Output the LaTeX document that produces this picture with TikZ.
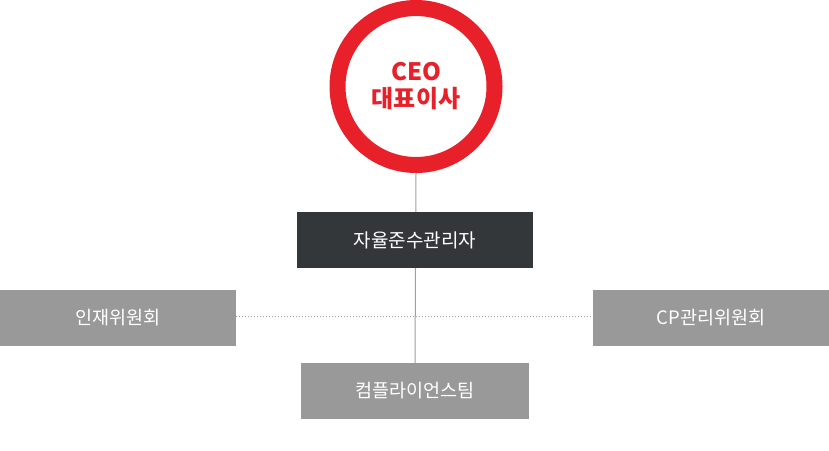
\documentclass[tikz,border=0pt]{standalone}
\usepackage{fontspec}
\setmainfont{Noto Sans CJK KR}
\usetikzlibrary{positioning, backgrounds}
\definecolor{ceored}{RGB}{232, 32, 42}
\definecolor{darkslate}{RGB}{52, 55, 58}
\definecolor{boxgray}{RGB}{153, 153, 153}
\definecolor{linegray}{RGB}{160, 160, 160}
\tikzset{
  ceoring/.style={circle, draw=ceored, line width=16pt, fill=white, minimum size=157pt, inner sep=0pt, align=center, text=ceored, font=\fontsize{24}{27}\selectfont\bfseries},
  orgbox_dark/.style={fill=darkslate, text=white, minimum width=236pt, minimum height=56pt, inner sep=0pt, font=\fontsize{19}{20}\selectfont},
  orgbox/.style={fill=boxgray, text=white, minimum width=236pt, minimum height=56pt, inner sep=0pt, font=\fontsize{18.5}{20}\selectfont},
  orgline/.style={draw=linegray, line width=1pt},
  dotline/.style={draw=linegray, line width=1pt, dash pattern=on 1pt off 2pt}
}
\begin{document}
\begin{tikzpicture}[x=1pt, y=-1pt]
    \useasboundingbox (0,0) rectangle (829,450);
    \node (ceo) [ceoring] at (416,86.5) {CEO\\대표이사};
    \node (cco) [orgbox_dark] at (415,240) {자율준수관리자};
    \node (hr) [orgbox, minimum width=236pt] at (118,318) {인재위원회};
    \node (cp) [orgbox, minimum width=236pt] at (711,318) {CP관리위원회};
    \node (team) [orgbox, minimum width=228pt] at (415,391) {컴플라이언스팀};
    \begin{scope}[on background layer]
        \draw[orgline] (ceo.south) -- (team.north);
        \draw[dotline] ([yshift=2pt]hr.east) -- ([yshift=2pt]cp.west);
    \end{scope}
\end{tikzpicture}
\end{document}
